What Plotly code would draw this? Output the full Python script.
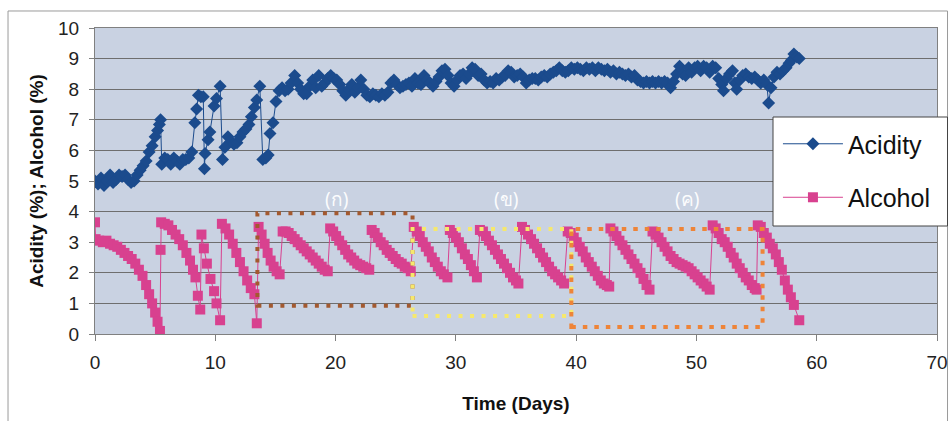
import plotly.graph_objects as go

# ---------------- data ----------------
acid_days = [0.0, 0.25, 0.5, 0.75, 1.0, 1.25, 1.5, 1.75, 2.0, 2.25, 2.5, 2.75, 3.0, 3.25, 3.5, 3.75,
             4.0, 4.25, 4.5, 4.75, 5.0, 5.2, 5.35, 5.45, 5.55, 5.8, 6.05, 6.3, 6.55, 6.8, 7.05, 7.3,
             7.55, 7.8, 8.05, 8.3, 8.45, 8.6, 8.8, 9.0, 9.1, 9.15, 9.4, 9.55, 9.9, 10.1, 10.4, 10.6,
             10.8, 11.05, 11.3, 11.55, 11.8, 12.05, 12.3, 12.55, 12.8, 13.0, 13.25, 13.45, 13.7, 13.95,
             14.2, 14.4, 14.55, 14.8, 15.05, 15.3, 15.55, 15.8, 16.05, 16.3, 16.6, 16.85, 17.1, 17.35,
             17.6, 17.85, 18.1, 18.35, 18.6, 18.85, 19.1, 19.35, 19.6, 19.85, 20.1, 20.35, 20.6, 20.85,
             21.1, 21.35, 21.6, 21.85, 22.1, 22.35, 22.6, 22.85, 23.1, 23.35, 23.6, 23.85, 24.1, 24.35,
             24.6, 24.85, 25.1, 25.35, 25.6, 25.85, 26.1, 26.35, 26.6, 26.85, 27.1, 27.35, 27.6, 27.85,
             28.1, 28.35, 28.6, 28.85, 29.1, 29.35, 29.6, 29.85, 30.1, 30.35, 30.6, 30.85, 31.1, 31.35,
             31.6, 31.85, 32.1, 32.35, 32.6, 32.85, 33.1, 33.35, 33.6, 33.85, 34.1, 34.35, 34.6, 34.85,
             35.1, 35.35, 35.6, 35.85, 36.1, 36.35, 36.6, 36.85, 37.1, 37.35, 37.6, 37.85, 38.1, 38.35,
             38.6, 38.85, 39.1, 39.35, 39.6, 39.85, 40.1, 40.35, 40.6, 40.85, 41.1, 41.35, 41.6, 41.85,
             42.1, 42.35, 42.6, 42.85, 43.1, 43.35, 43.6, 43.85, 44.1, 44.35, 44.6, 44.85, 45.1, 45.35,
             45.6, 45.85, 46.1, 46.35, 46.6, 46.85, 47.1, 47.35, 47.6, 47.85, 48.1, 48.35, 48.6, 48.85,
             49.1, 49.35, 49.6, 49.85, 50.1, 50.35, 50.6, 50.85, 51.1, 51.35, 51.6, 51.85, 52.1, 52.25,
             52.5, 52.75, 53.0, 53.2, 53.35, 53.6, 53.85, 54.1, 54.35, 54.6, 54.85, 55.1, 55.35, 55.6,
             55.85, 56.0, 56.2, 56.45, 56.7, 56.95, 57.2, 57.45, 57.7, 57.9, 58.1, 58.35, 58.55]
acid_vals = [5.0, 4.9, 5.1, 4.85, 5.0, 5.2, 4.95, 5.05, 5.2, 5.15, 5.2, 5.05, 4.95, 5.0, 5.2, 5.35,
             5.5, 5.65, 5.95, 6.15, 6.45, 6.65, 6.85, 7.0, 5.55, 5.75, 5.7, 5.55, 5.75, 5.65, 5.55, 5.7,
             5.7, 5.75, 5.95, 6.9, 7.35, 7.8, 7.75, 7.75, 5.4, 5.9, 6.35, 6.6, 7.45, 7.7, 8.1, 5.7,
             6.1, 6.45, 6.3, 6.2, 6.25, 6.45, 6.6, 6.7, 6.85, 7.1, 7.4, 7.65, 8.1, 5.7,
             5.75, 5.85, 6.55, 6.9, 7.6, 7.95, 8.05, 7.95, 8.0, 8.2, 8.45, 8.2, 8.0, 7.85,
             7.85, 8.1, 8.3, 8.05, 8.45, 8.1, 8.2, 8.35, 8.45, 8.35, 8.3, 8.15, 7.95, 7.8,
             8.0, 8.15, 7.9, 8.05, 8.3, 8.0, 7.8, 7.75, 7.85, 7.8, 7.75, 7.85, 7.8, 7.9,
             8.2, 8.3, 8.15, 8.05, 8.1, 8.15, 8.2, 8.1, 8.35, 8.2, 8.15, 8.45, 8.3, 8.2,
             8.1, 8.25, 8.4, 8.6, 8.65, 8.45, 8.2, 8.1, 8.3, 8.45, 8.5, 8.35, 8.5, 8.7,
             8.65, 8.45, 8.5, 8.3, 8.2, 8.25, 8.2, 8.35, 8.3, 8.4, 8.45, 8.6, 8.55, 8.4,
             8.45, 8.5, 8.4, 8.2, 8.3, 8.35, 8.35, 8.3, 8.4, 8.45, 8.4, 8.5, 8.55, 8.6,
             8.7, 8.6, 8.55, 8.6, 8.7, 8.65, 8.7, 8.65, 8.6, 8.7, 8.65, 8.7, 8.6, 8.7,
             8.65, 8.6, 8.65, 8.55, 8.6, 8.5, 8.55, 8.5, 8.45, 8.5, 8.4, 8.45, 8.3, 8.25,
             8.2, 8.25, 8.2, 8.25, 8.2, 8.25, 8.2, 8.25, 8.2, 8.05, 8.25, 8.5, 8.75, 8.5,
             8.45, 8.7, 8.55, 8.7, 8.75, 8.6, 8.75, 8.7, 8.55, 8.75, 8.7, 8.35, 8.15, 7.95,
             8.35, 8.5, 8.6, 8.2, 8.0, 8.3, 8.45, 8.5, 8.4, 8.35, 8.4, 8.3, 8.2, 8.3,
             8.15, 7.55, 8.05, 8.4, 8.55, 8.5, 8.6, 8.7, 8.85, 8.95, 9.15, 9.05, 9.0]

alc_days = [0.0, 0.05, 0.35, 0.65, 0.95, 1.25, 1.55, 1.85, 2.15, 2.45, 2.75, 3.05, 3.35, 3.65, 3.95,
            4.25, 4.5, 4.75, 5.0, 5.2, 5.4,
            5.45, 5.5, 5.8, 6.1, 6.4, 6.7, 7.0, 7.3, 7.6, 7.9, 8.15, 8.35, 8.55, 8.75,
            8.85, 9.05, 9.3, 9.6, 9.9, 10.1, 10.4,
            10.55, 10.85, 11.15, 11.45, 11.75, 12.05, 12.35, 12.65, 12.95, 13.25, 13.45,
            13.6, 13.85, 14.1, 14.35, 14.6, 14.85, 15.1, 15.35,
            15.6, 15.85, 16.1, 16.35, 16.6, 16.85, 17.1, 17.35, 17.6, 17.85, 18.1, 18.35, 18.6, 18.85, 19.1, 19.35,
            19.55, 19.8, 20.05, 20.3, 20.55, 20.8, 21.05, 21.3, 21.55, 21.8, 22.05, 22.3, 22.55, 22.8,
            23.0, 23.25, 23.5, 23.75, 24.0, 24.25, 24.5, 24.75, 25.0, 25.25, 25.5, 25.75, 26.0, 26.25,
            26.5, 26.75, 27.0, 27.25, 27.5, 27.75, 28.0, 28.25, 28.5, 28.75, 29.0, 29.3,
            29.5, 29.75, 30.0, 30.25, 30.5, 30.75, 31.0, 31.25, 31.5, 31.75,
            32.0, 32.25, 32.5, 32.75, 33.0, 33.25, 33.5, 33.75, 34.0, 34.25, 34.5, 34.75, 35.0, 35.2,
            35.5, 35.75, 36.0, 36.25, 36.5, 36.75, 37.0, 37.25, 37.5, 37.75, 38.0, 38.25, 38.5, 38.75, 39.0,
            39.3, 39.55, 39.8, 40.05, 40.3, 40.55, 40.8, 41.05, 41.3, 41.55, 41.8, 42.05, 42.3, 42.55, 42.75,
            42.85, 43.1, 43.35, 43.6, 43.85, 44.1, 44.35, 44.6, 44.85, 45.1, 45.35, 45.6, 45.85, 46.1,
            46.35, 46.6, 46.85, 47.1, 47.35, 47.6, 47.85, 48.1, 48.35, 48.6, 48.85, 49.1, 49.35, 49.6,
            49.85, 50.1, 50.35, 50.6, 50.85, 51.1,
            51.35, 51.6, 51.85, 52.1, 52.35, 52.6, 52.85, 53.1, 53.35, 53.6, 53.85, 54.1, 54.35, 54.6, 54.85, 55.0,
            55.1, 55.35, 55.6, 55.85, 56.1, 56.35, 56.6, 56.85, 57.1, 57.35, 57.6, 57.85, 58.1, 58.55]
alc_vals = [3.65, 3.1, 3.05, 3.0, 3.05, 2.95, 2.9, 2.85, 2.75, 2.65, 2.55, 2.45, 2.3, 2.1, 1.9,
            1.6, 1.3, 1.0, 0.7, 0.4, 0.1,
            2.75, 3.65, 3.6, 3.55, 3.4, 3.25, 3.1, 2.9, 2.65, 2.4, 2.1, 1.85, 1.25, 0.8,
            3.25, 2.8, 2.3, 1.8, 1.4, 1.0, 0.45,
            3.6, 3.45, 3.25, 2.95, 2.65, 2.35, 2.05, 1.75, 1.5, 1.3, 0.35,
            3.5, 3.25, 2.95, 2.65, 2.4, 2.2, 2.05, 1.95,
            3.35, 3.35, 3.3, 3.2, 3.1, 3.0, 2.9, 2.8, 2.7, 2.6, 2.5, 2.4, 2.3, 2.2, 2.1, 2.05,
            3.45, 3.35, 3.2, 3.05, 2.9, 2.75, 2.6, 2.5, 2.4, 2.3, 2.25, 2.2, 2.15, 2.1,
            3.4, 3.3, 3.15, 3.0, 2.9, 2.75, 2.65, 2.55, 2.45, 2.35, 2.3, 2.2, 2.15, 2.05,
            3.5, 3.35, 3.2, 3.0, 2.85, 2.7, 2.5, 2.35, 2.2, 2.05, 1.95, 1.85,
            3.4, 3.3, 3.15, 3.0, 2.8, 2.6, 2.45, 2.25, 2.05, 1.85,
            3.4, 3.35, 3.2, 3.05, 2.9, 2.75, 2.6, 2.45, 2.3, 2.15, 2.0, 1.85, 1.75, 1.65,
            3.5, 3.4, 3.25, 3.1, 2.95, 2.8, 2.65, 2.5, 2.35, 2.2, 2.05, 1.95, 1.85, 1.75, 1.65,
            3.35, 3.3, 3.15, 3.0, 2.85, 2.7, 2.5, 2.35, 2.2, 2.05, 1.9, 1.75, 1.65, 1.6, 1.55,
            3.45, 3.35, 3.2, 3.05, 2.9, 2.75, 2.6, 2.45, 2.3, 2.15, 2.0, 1.8, 1.6, 1.45,
            3.35, 3.25, 3.15, 3.0, 2.85, 2.7, 2.55, 2.45, 2.35, 2.3, 2.25, 2.2, 2.15, 2.05,
            1.95, 1.85, 1.75, 1.65, 1.55, 1.45,
            3.55, 3.45, 3.3, 3.1, 3.0, 2.85, 2.65, 2.5, 2.3, 2.15, 2.0, 1.85, 1.75, 1.6, 1.5, 1.45,
            3.55, 3.5, 3.3, 3.15, 2.95, 2.8, 2.6, 2.35, 2.1, 1.75, 1.45, 1.2, 0.95, 0.45]

# phase boxes (day range, concentration range) and their labels
box_x0 = [13.5, 26.4, 39.6]
box_x1 = [26.4, 39.6, 55.5]
box_y0 = [0.92, 0.59, 0.23]
box_y1 = [3.95, 3.43, 3.43]
box_colors = ["#a3592f", "#f6e86c", "#ee8438"]
box_dash = ["4px,7.5px", "4px,7.5px", "4.5px,7px"]
label_text = ["(ก)", "(ข)", "(ค)"]
label_x = [20.1, 34.2, 49.2]
label_y = 4.4

ACID_COL = "#1b4b8d"
ALC_COL = "#d8418f"
FONT = "Liberation Sans, Arial, sans-serif"

fig = go.Figure()
fig.add_trace(go.Scatter(
    x=acid_days, y=acid_vals, name="Acidity", mode="lines+markers", legendgroup="a",
    line=dict(color=ACID_COL, width=1),
    marker=dict(symbol="diamond", size=10, color=ACID_COL, line=dict(width=0)),
))
fig.add_trace(go.Scatter(
    x=alc_days, y=alc_vals, name="Alcohol", mode="lines+markers", legendgroup="b",
    line=dict(color=ALC_COL, width=1),
    marker=dict(symbol="square", size=10, color=ALC_COL, line=dict(width=0)),
))

shapes = []
for i in range(3):
    shapes.append(dict(type="rect", xref="x", yref="y",
                       x0=box_x0[i], x1=box_x1[i], y0=box_y0[i], y1=box_y1[i],
                       line=dict(color=box_colors[i], width=4, dash=box_dash[i]),
                       fillcolor="rgba(0,0,0,0)", layer="above"))
# outer chart frame
shapes.append(dict(type="rect", xref="paper", yref="paper",
                   x0=-0.1033, x1=1.0125, y0=-0.32, y1=1.0556,
                   line=dict(color="#9a9a9a", width=1), fillcolor="rgba(0,0,0,0)", layer="below"))
# legend box
shapes.append(dict(type="rect", xref="paper", yref="paper",
                   x0=(773 - 95) / 842, x1=(947.5 - 95) / 842,
                   y0=(334 - 226) / 306, y1=(334 - 117) / 306,
                   line=dict(color="#444444", width=1), fillcolor="white", layer="above"))

annotations = []
for i in range(3):
    annotations.append(dict(x=label_x[i], y=label_y, xref="x", yref="y", text=label_text[i],
                            showarrow=False, font=dict(family="Noto Sans, DejaVu Sans, sans-serif",
                                                       size=19, color="rgba(255,255,255,0.95)")))

fig.update_layout(
    width=949, height=421,
    margin=dict(l=95, r=12, t=28, b=87),
    paper_bgcolor="white",
    plot_bgcolor="#c9d2e2",
    font=dict(family=FONT, color="#111111"),
    shapes=shapes,
    annotations=annotations,
    showlegend=True,
    legend=dict(x=0.8111, y=0.696, xanchor="left", yanchor="top",
                bgcolor="rgba(0,0,0,0)", borderwidth=0,
                font=dict(family=FONT, size=25, color="#111111"),
                tracegroupgap=18, itemwidth=60),
)
fig.update_xaxes(range=[0, 70], dtick=10, tick0=0, showgrid=False, zeroline=False, automargin=False,
                 showline=True, mirror=True, linecolor="#808080", linewidth=1,
                 ticks="outside", ticklen=6, tickcolor="#808080",
                 tickfont=dict(family=FONT, size=19, color="#222222"),
                 ticklabelstandoff=5,
                 title=dict(text="Time (Days)", standoff=24,
                            font=dict(family=FONT, size=19, color="#111111", weight="bold")))
fig.update_yaxes(range=[0, 10], dtick=1, tick0=0, showgrid=True, gridcolor="#6e6e6e", gridwidth=1,
                 zeroline=False, showline=True, mirror=True, linecolor="#808080", linewidth=1,
                 automargin=False,
                 ticks="outside", ticklen=5, tickcolor="#808080",
                 tickfont=dict(family=FONT, size=19, color="#222222"),
                 ticklabelstandoff=6,
                 title=dict(text="Acidity (%); Alcohol (%)", standoff=9,
                            font=dict(family=FONT, size=19, color="#111111", weight="bold")))

fig.write_html("out.html", config={"displayModeBar": False},
               post_script="document.body.style.margin='0px';")
